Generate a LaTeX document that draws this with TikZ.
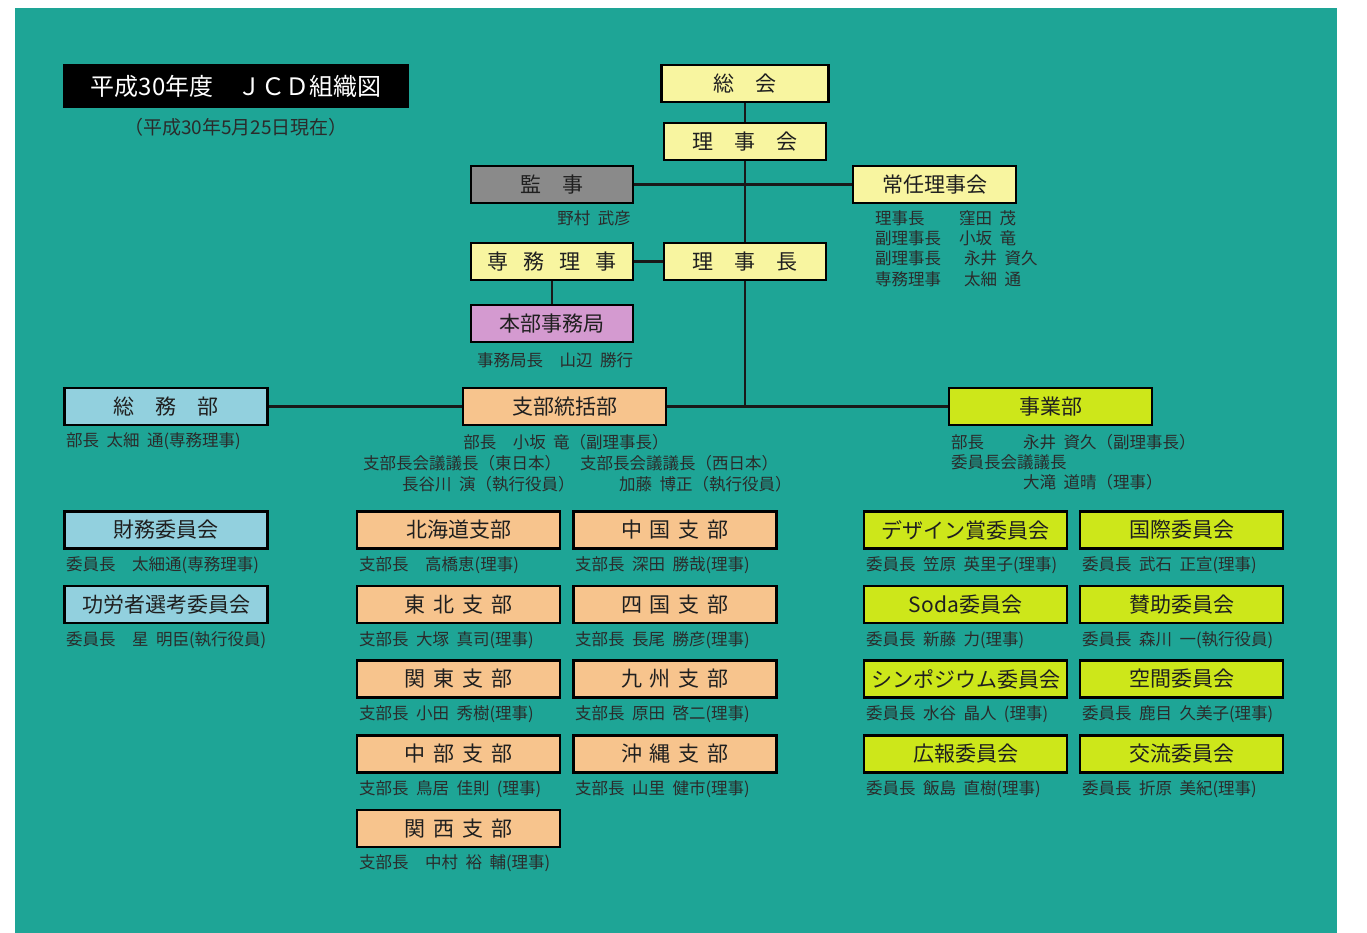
\documentclass[tikz,border=0pt]{standalone}
\usepackage{fontspec}
\setmainfont{Noto Sans CJK JP}
\definecolor{bgteal}{HTML}{1EA596}
\definecolor{paleY}{HTML}{F8F5A0}
\definecolor{greybox}{HTML}{8A8A8A}
\definecolor{pinkbox}{HTML}{D49AD0}
\definecolor{bluebox}{HTML}{92D0DE}
\definecolor{orangebox}{HTML}{F7C48D}
\definecolor{limebox}{HTML}{CDE71A}
\definecolor{txt}{HTML}{2B2B2B}
\newcommand\lblfont{\fontsize{16.5}{16.5}\selectfont\spaceskip=0.45em\relax}
\begin{document}
\begin{tikzpicture}[x=1pt,y=-1pt,
  box/.style={draw=black,line width=2.2pt,minimum height=37pt,inner sep=0pt,
    font=\fontsize{21}{21}\selectfont,text=black!88},
  topbox/.style={box,minimum width=162pt,fill=paleY},
  deptbox/.style={box,minimum width=203pt},
  lbl/.style={font=\lblfont,text=txt,inner sep=0pt,anchor=west},
  conn/.style={line width=2.4pt,draw=black!90}]
\useasboundingbox (0,0) rectangle (1367,933);
\fill[white] (0,0) rectangle (1367,933);
\fill[bgteal] (15,8) rectangle (1337,933);
% title
\node[fill=black,minimum width=346pt,minimum height=44pt,inner sep=0pt,text=white,
  font=\fontsize{24}{24}\selectfont] (title) at (236,86) {平成30年度　ＪＣＤ組織図};
\node[font=\fontsize{19}{19}\selectfont,text=txt,inner sep=0pt] (date) at (236,127) {（平成30年5月25日現在）};
% top structure
\node[topbox,minimum width=167pt] (sokai) at (745,83.5) {総　会};
\node[topbox] (rijikai) at (745,141.5) {理　事　会};
\node[topbox,fill=greybox] (kanji) at (552,184.5) {監　事};
\node[topbox,minimum width=163pt] (jonin) at (934.5,184.5) {常任理事会};
\node[topbox] (senmu) at (552,261.5) {専\kern15pt 務\kern15pt 理\kern15pt 事};
\node[topbox] (rijicho) at (745,261.5) {理　事　長};
\node[topbox,fill=pinkbox] (honbu) at (552,323.5) {本部事務局};
% departments
\node[deptbox,fill=bluebox] (somu) at (166,406.5) {総　務　部};
\node[deptbox,fill=orangebox] (shibu) at (564.5,406.5) {支部統括部};
\node[deptbox,fill=limebox] (jigyo) at (1050.5,406.5) {事業部};
% connectors
\draw[conn] (sokai.south) -- (rijikai.north);
\draw[conn] (kanji.east) -- (jonin.west);
\draw[conn] (rijikai.south) -- (rijicho.north);
\draw[conn] (senmu.east) -- (rijicho.west);
\draw[conn] (senmu.south) -- (honbu.north);
\draw[conn] (somu.east) -- (shibu.west);
\draw[conn] (shibu.east) -- (jigyo.west);
\draw[conn] (rijicho.south) -- (rijicho.south |- shibu.east);
% top labels
\node[lbl,anchor=east] (l-kanji) at (631,218) {野村 武彦};
\node[lbl] (j1a) at (875,218) {理事長};
\node[lbl] (j1b) at (959,218) {窪田 茂};
\node[lbl] (j2a) at (875,238) {副理事長};
\node[lbl] (j2b) at (959,238) {小坂 竜};
\node[lbl] (j3a) at (875,258) {副理事長};
\node[lbl] (j3b) at (964,258) {永井 資久};
\node[lbl] (j4a) at (875,279) {専務理事};
\node[lbl] (j4b) at (964,279) {太細 通};
\node[lbl] (l-honbu) at (477,360) {事務局長　山辺 勝行};
% department labels
\node[lbl] (l-somu) at (66,441) {部長 太細 通(専務理事)};
\node[lbl,anchor=center] (s1) at (566,442) {部長　小坂 竜（副理事長）};
\node[lbl] (s2) at (363,463) {支部長会議議長（東日本）};
\node[lbl] (s3) at (580,463) {支部長会議議長（西日本）};
\node[lbl] (s4) at (402,484) {長谷川 演（執行役員）};
\node[lbl] (s5) at (619,484) {加藤 博正（執行役員）};
\node[lbl] (g1a) at (951,442) {部長};
\node[lbl] (g1b) at (1023,442) {永井 資久（副理事長）};
\node[lbl] (g2) at (951,462) {委員長会議議長};
\node[lbl] (g3) at (1023,482) {大滝 道晴（理事）};
% left committees
\node[deptbox,fill=bluebox] (zaimu) at (166,530) {財務委員会};
\node[lbl] at (66,565) {委員長　太細通(専務理事)};
\node[deptbox,fill=bluebox] (koro) at (166,604.5) {功労者選考委員会};
\node[lbl] at (66,640) {委員長　星 明臣(執行役員)};
% branches
\node[deptbox,fill=orangebox] (hokkaido) at (458.5,530) {北海道支部};
\node[lbl] at (359,565) {支部長　高橋恵(理事)};
\node[deptbox,fill=orangebox] (chugoku) at (675,530) {中\kern8pt 国\kern8pt 支\kern8pt 部};
\node[lbl] at (575,565) {支部長 深田 勝哉(理事)};
\node[deptbox,fill=orangebox] (tohoku) at (458.5,604.5) {東\kern8pt 北\kern8pt 支\kern8pt 部};
\node[lbl] at (359,640) {支部長 大塚 真司(理事)};
\node[deptbox,fill=orangebox] (shikoku) at (675,604.5) {四\kern8pt 国\kern8pt 支\kern8pt 部};
\node[lbl] at (575,640) {支部長 長尾 勝彦(理事)};
\node[deptbox,fill=orangebox] (kanto) at (458.5,679) {関\kern8pt 東\kern8pt 支\kern8pt 部};
\node[lbl] at (359,714) {支部長 小田 秀樹(理事)};
\node[deptbox,fill=orangebox] (kyushu) at (675,679) {九\kern8pt 州\kern8pt 支\kern8pt 部};
\node[lbl] at (575,714) {支部長 原田 啓二(理事)};
\node[deptbox,fill=orangebox] (chubu) at (458.5,754) {中\kern8pt 部\kern8pt 支\kern8pt 部};
\node[lbl] at (359,789) {支部長 鳥居 佳則 (理事)};
\node[deptbox,fill=orangebox] (okinawa) at (675,754) {沖\kern8pt 縄\kern8pt 支\kern8pt 部};
\node[lbl] at (575,789) {支部長 山里 健市(理事)};
\node[deptbox,fill=orangebox] (kansai) at (458.5,828.5) {関\kern8pt 西\kern8pt 支\kern8pt 部};
\node[lbl] at (359,863) {支部長　中村 裕 輔(理事)};
% business committees
\node[deptbox,fill=limebox] (design) at (965.5,530) {デザイン賞委員会};
\node[lbl] at (866,565) {委員長 笠原 英里子(理事)};
\node[deptbox,fill=limebox] (kokusai) at (1181.5,530) {国際委員会};
\node[lbl] at (1082,565) {委員長 武石 正宣(理事)};
\node[deptbox,fill=limebox] (soda) at (965.5,604.5) {Soda委員会};
\node[lbl] at (866,640) {委員長 新藤 力(理事)};
\node[deptbox,fill=limebox] (sanjo) at (1181.5,604.5) {賛助委員会};
\node[lbl] at (1082,640) {委員長 森川 一(執行役員)};
\node[deptbox,fill=limebox] (sympo) at (965.5,679) {シンポジウム委員会};
\node[lbl] at (866,714) {委員長 水谷 晶人 (理事)};
\node[deptbox,fill=limebox] (kukan) at (1181.5,679) {空間委員会};
\node[lbl] at (1082,714) {委員長 鹿目 久美子(理事)};
\node[deptbox,fill=limebox] (koho) at (965.5,754) {広報委員会};
\node[lbl] at (866,789) {委員長 飯島 直樹(理事)};
\node[deptbox,fill=limebox] (koryu) at (1181.5,754) {交流委員会};
\node[lbl] at (1082,789) {委員長 折原 美紀(理事)};
\end{tikzpicture}
\end{document}
